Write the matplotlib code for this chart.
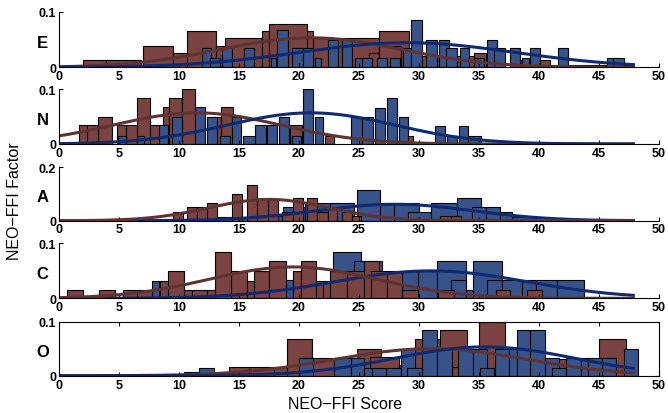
import numpy as np
import matplotlib
matplotlib.use('Agg')
import matplotlib.pyplot as plt

plt.rcParams['font.family'] = ['Liberation Sans', 'DejaVu Sans']

# factor names, top to bottom
factors = ['E', 'N', 'A', 'C', 'O']
ytops = [0.1, 0.1, 0.2, 0.1, 0.1]

# bars per factor: left edge, right edge, height (brown group / blue group)
e_brown_lo = [2.0, 3.9, 7.0, 9.5, 10.7, 13.1, 13.8, 16.9, 19.1, 17.5, 21.2, 23.6, 26.7, 25.8, 26.7, 29.2, 31.4, 34.6, 37.7, 40.9]
e_brown_hi = [4.3, 6.8, 9.5, 10.7, 13.1, 13.8, 16.9, 17.5, 21.2, 20.7, 23.6, 26.7, 29.2, 26.7, 28.5, 31.4, 35.6, 35.6, 40.9, 47.9]
e_brown_h = [0.013, 0.013, 0.039, 0.026, 0.065, 0.039, 0.052, 0.065, 0.065, 0.078, 0.052, 0.052, 0.065, 0.026, 0.039, 0.02, 0.02, 0.026, 0.013, 0.005]
e_blue_lo = [11.9, 12.6, 13.6, 15.4, 17.65, 18.2, 19.4, 20.3, 21.3, 22.4, 23.6, 24.65, 25.25, 26.5, 27.6, 28.7, 29.35, 30.6, 31.7, 32.3, 33.4, 34.6, 35.65, 36.3, 37.6, 38.6, 39.25, 41.6, 45.7, 46.2]
e_blue_hi = [12.7, 13.4, 14.45, 16.25, 18.1, 19.1, 20.3, 21.2, 21.8, 23.25, 24.4, 25.25, 26.1, 27.3, 28.4, 29.3, 30.25, 31.5, 32.55, 33.2, 34.2, 35.45, 36.5, 37.2, 38.4, 39.2, 40.1, 42.45, 46.5, 47.1]
e_blue_h = [0.034, 0.017, 0.034, 0.034, 0.017, 0.067, 0.034, 0.034, 0.017, 0.05, 0.05, 0.017, 0.017, 0.017, 0.017, 0.034, 0.085, 0.05, 0.05, 0.034, 0.034, 0.017, 0.05, 0.034, 0.034, 0.017, 0.034, 0.034, 0.017, 0.017]

n_brown_lo = [1.7, 2.36, 3.28, 4.8, 5.58, 6.53, 7.58, 8.64, 9.19, 10.22, 12.44, 13.47, 19.25, 22.2, 29.1]
n_brown_hi = [2.36, 3.28, 4.4, 5.58, 6.53, 7.58, 8.36, 9.19, 10.22, 11.33, 13.47, 14.53, 20.22, 22.9, 29.5]
n_brown_h = [0.034, 0.034, 0.049, 0.034, 0.034, 0.084, 0.034, 0.067, 0.084, 0.1, 0.05, 0.067, 0.034, 0.015, 0.015]
n_blue_lo = [4.94, 6.47, 8.36, 9.39, 11.33, 12.31, 13.42, 14.39, 15.36, 16.33, 17.31, 18.36, 19.39, 20.36, 21.33, 24.31, 25.28, 26.33, 27.36, 28.36, 31.33, 32.36, 33.33, 34.11]
n_blue_hi = [5.58, 7.08, 9.11, 10.22, 12.17, 13.14, 14.25, 15.14, 16.33, 17.25, 18.14, 19.19, 20.17, 21.19, 22.03, 25.22, 26.14, 27.17, 28.14, 29.11, 32.17, 33.14, 34.11, 35.14]
n_blue_h = [0.015, 0.015, 0.034, 0.049, 0.067, 0.049, 0.015, 0.049, 0.015, 0.034, 0.034, 0.049, 0.015, 0.1, 0.049, 0.049, 0.049, 0.066, 0.084, 0.049, 0.033, 0.015, 0.033, 0.015]

a_brown_lo = [9.47, 10.7, 11.53, 12.36, 14.44, 15.69, 16.53, 17.44, 18.6, 19.5, 20.7, 21.5, 22.4, 23.6, 24.4, 31.8, 32.7]
a_brown_hi = [10.3, 11.53, 12.36, 13.19, 15.28, 16.53, 17.44, 18.28, 19.5, 20.3, 21.5, 22.4, 23.2, 24.4, 25.2, 32.7, 33.5]
a_brown_h = [0.034, 0.05, 0.05, 0.065, 0.1, 0.134, 0.08, 0.08, 0.031, 0.084, 0.084, 0.031, 0.044, 0.031, 0.016, 0.016, 0.016]
a_blue_lo = [13.2, 16.0, 18.7, 20.5, 22.6, 24.8, 26.75, 27.9, 29.1, 31.0, 33.2, 34.4, 35.6, 36.8, 37.8]
a_blue_hi = [16.0, 18.7, 20.5, 22.6, 24.6, 26.75, 27.9, 30.0, 31.0, 33.2, 35.2, 35.6, 36.8, 37.8, 39.8]
a_blue_h = [0.012, 0.016, 0.05, 0.065, 0.065, 0.116, 0.065, 0.065, 0.034, 0.065, 0.085, 0.05, 0.05, 0.031, 0.012]

c_brown_lo = [0.64, 3.36, 5.3, 6.47, 8.42, 9.11, 10.42, 11.06, 12.36, 13.0, 14.3, 15.64, 16.25, 17.5, 19.5, 20.14, 21.4, 22.0, 22.6, 24.0, 25.4, 26.0, 27.3, 28.6, 31.6, 36.4, 38.98]
c_brown_hi = [1.97, 4.67, 6.47, 7.78, 9.11, 10.42, 11.06, 12.36, 13.0, 14.3, 15.64, 16.25, 17.5, 18.9, 20.14, 21.4, 22.0, 22.6, 24.0, 25.4, 26.7, 27.3, 28.6, 29.9, 32.9, 37.6, 40.3]
c_brown_h = [0.016, 0.016, 0.016, 0.016, 0.032, 0.049, 0.016, 0.016, 0.016, 0.084, 0.049, 0.032, 0.049, 0.067, 0.049, 0.067, 0.032, 0.032, 0.049, 0.049, 0.067, 0.049, 0.049, 0.016, 0.016, 0.016, 0.016]
c_blue_lo = [7.72, 18.9, 22.8, 24.6, 28.6, 29.9, 31.5, 32.7, 33.9, 34.5, 35.7, 36.9, 38.6, 39.8, 41.5]
c_blue_hi = [8.36, 19.5, 25.2, 26.9, 29.9, 31.5, 33.9, 33.9, 34.5, 36.9, 36.9, 38.6, 39.8, 41.5, 43.8]
c_blue_h = [0.032, 0.034, 0.085, 0.067, 0.049, 0.049, 0.067, 0.034, 0.016, 0.067, 0.034, 0.034, 0.034, 0.034, 0.034]

o_brown_lo = [10.4, 12.9, 14.2, 15.8, 17.9, 18.97, 21.1, 23.1, 24.8, 25.9, 28.3, 29.7, 31.8, 32.8, 34.0, 35.0, 37.2, 45.0]
o_brown_hi = [11.7, 14.2, 15.8, 17.9, 18.97, 21.1, 23.1, 24.8, 26.8, 28.3, 29.7, 31.8, 34.0, 33.3, 35.0, 37.2, 45.0, 47.3]
o_brown_h = [0.006, 0.006, 0.017, 0.017, 0.017, 0.067, 0.033, 0.033, 0.05, 0.034, 0.02, 0.067, 0.085, 0.017, 0.03, 0.1, 0.03, 0.067]
o_blue_lo = [11.7, 20.0, 22.9, 24.31, 25.44, 26.06, 27.22, 28.47, 29.03, 30.28, 31.53, 33.28, 34.47, 35.08, 36.33, 37.5, 38.14, 39.25, 40.5, 41.1, 42.3, 43.5, 44.1, 45.3, 47.1]
o_blue_hi = [12.9, 21.2, 24.31, 25.44, 26.06, 27.22, 28.47, 29.67, 30.28, 31.53, 32.72, 34.47, 35.64, 36.25, 37.5, 38.14, 39.25, 40.5, 41.67, 42.3, 43.5, 44.1, 45.3, 46.47, 48.3]
o_blue_h = [0.015, 0.033, 0.033, 0.033, 0.015, 0.015, 0.015, 0.049, 0.015, 0.085, 0.049, 0.049, 0.049, 0.015, 0.049, 0.049, 0.085, 0.085, 0.033, 0.015, 0.033, 0.033, 0.033, 0.033, 0.049]

# fitted normal curves (mean, sd) per factor
brown_mu = [21.0, 11.5, 17.5, 19.5, 31.0]
brown_sd = [7.5, 7.0, 5.0, 7.0, 8.0]
blue_mu = [29.0, 21.0, 28.0, 31.0, 35.5]
blue_sd = [9.0, 7.0, 6.5, 8.0, 7.5]

brown_bars = [(e_brown_lo, e_brown_hi, e_brown_h), (n_brown_lo, n_brown_hi, n_brown_h),
              (a_brown_lo, a_brown_hi, a_brown_h), (c_brown_lo, c_brown_hi, c_brown_h),
              (o_brown_lo, o_brown_hi, o_brown_h)]
blue_bars = [(e_blue_lo, e_blue_hi, e_blue_h), (n_blue_lo, n_blue_hi, n_blue_h),
             (a_blue_lo, a_blue_hi, a_blue_h), (c_blue_lo, c_blue_hi, c_blue_h),
             (o_blue_lo, o_blue_hi, o_blue_h)]
brown_on_top = [False, False, True, True, False]

BROWN = '#7a4341'
BROWN_LINE = '#5e3331'
BLUE = '#37538a'
BLUE_LINE = '#0d2a72'

fig = plt.figure(figsize=(6.68, 4.14), dpi=100)
bottoms = [0.835, 0.6498, 0.4645, 0.277, 0.090]
heights = [0.134, 0.132, 0.129, 0.133, 0.131]

xs = np.linspace(0, 48, 300)


def draw_group(ax, bars, mu, sd, fill, line):
    lo, hi, h = (np.array(v) for v in bars)
    ax.bar(lo, h, width=hi - lo, align='edge', color=fill, edgecolor='black', linewidth=0.8)
    pdf = np.exp(-0.5 * ((xs - mu) / sd) ** 2) / (sd * np.sqrt(2 * np.pi))
    ax.plot(xs, pdf, color=line, linewidth=2.2, solid_capstyle='butt')


for i, name in enumerate(factors):
    ax = fig.add_axes([0.0883, bottoms[i], 0.898, heights[i]])
    groups = [(brown_bars[i], brown_mu[i], brown_sd[i], BROWN, BROWN_LINE),
              (blue_bars[i], blue_mu[i], blue_sd[i], BLUE, BLUE_LINE)]
    if brown_on_top[i]:
        groups = groups[::-1]
    for g in groups:
        draw_group(ax, *g)

    ax.set_xlim(0, 50)
    ax.set_ylim(0, ytops[i])
    ax.set_xticks(range(0, 51, 5))
    ax.set_yticks([0, ytops[i]])
    ax.set_yticklabels(['0', '%g' % ytops[i]])
    for lab in ax.get_xticklabels() + ax.get_yticklabels():
        lab.set_fontweight('bold')
        lab.set_fontsize(9)
    ax.tick_params(direction='in', length=3, width=0.8, pad=2)
    if name == 'O':
        ax.tick_params(top=True, right=True)
    else:
        ax.spines['top'].set_visible(False)
        ax.spines['right'].set_visible(False)
    for sp in ax.spines.values():
        sp.set_linewidth(0.8)
    ax.patch.set_alpha(0)
    ax.text(-0.027, 0.45, name, transform=ax.transAxes, ha='center', va='center',
            fontsize=12, fontweight='bold')

fig.text(0.022, 0.515, 'NEO\u2212FFI Factor', rotation=90, ha='center', va='center', fontsize=11.5)
fig.text(0.516, 0.022, 'NEO\u2212FFI Score', ha='center', va='center', fontsize=11.5)

fig.savefig('out.png', dpi=100)
